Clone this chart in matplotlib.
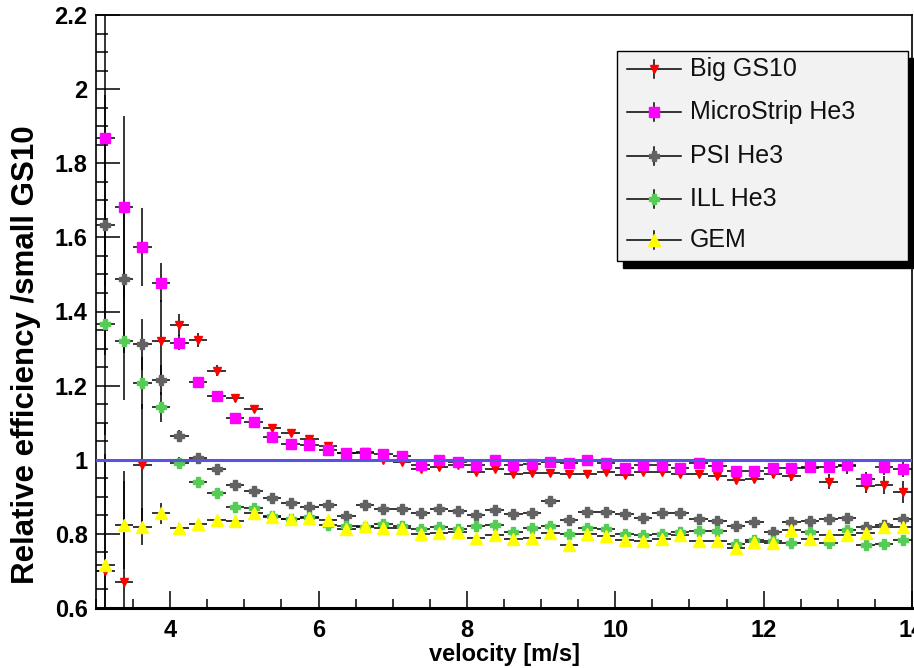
import matplotlib
matplotlib.use("Agg")
import matplotlib.pyplot as plt
from matplotlib.lines import Line2D
from matplotlib.patches import Rectangle
from matplotlib.ticker import MultipleLocator, FuncFormatter
import numpy as np

plt.rcParams['font.family'] = ['Liberation Sans', 'DejaVu Sans']

# ---------------- data ----------------
velocity = [3.125 + 0.25 * k for k in range(44)]
x_half_width = 0.125

big_gs10 = [0.70, 0.67, 0.985, 1.32, 1.364, 1.323, 1.24, 1.166, 1.138, 1.085,
            1.071, 1.056, 1.037, 1.018, 1.022, 1.0, 0.993, 0.976, 0.980, 0.987,
            0.967, 0.976, 0.961, 0.963, 0.964, 0.961, 0.962, 0.967, 0.959, 0.967,
            0.967, 0.962, 0.961, 0.955, 0.945, 0.947, 0.962, 0.955, 0.978, 0.941,
            0.982, 0.930, 0.932, 0.914]
big_gs10_err = [0.40, 0.30, 0.165, 0.11, 0.03, 0.02, 0.015, 0.01, 0.008, 0.008,
                0.008, 0.008, 0.008, 0.008, 0.008, 0.008, 0.008, 0.008, 0.008, 0.008,
                0.008, 0.008, 0.008, 0.008, 0.008, 0.008, 0.008, 0.008, 0.008, 0.008,
                0.008, 0.008, 0.008, 0.01, 0.01, 0.01, 0.012, 0.012, 0.015, 0.02,
                0.02, 0.02, 0.025, 0.03]

microstrip = [1.869, 1.683, 1.575, 1.478, 1.316, 1.209, 1.171, 1.112, 1.101, 1.062,
              1.043, 1.039, 1.027, 1.018, 1.017, 1.016, 1.011, 0.987, 1.0, 0.994,
              0.985, 1.0, 0.985, 0.989, 0.993, 0.991, 0.998, 0.991, 0.979, 0.987,
              0.985, 0.979, 0.991, 0.984, 0.969, 0.969, 0.978, 0.978, 0.980, 0.980,
              0.986, 0.948, 0.980, 0.974]
microstrip_err = [0.40, 0.245, 0.105, 0.053, 0.02, 0.012, 0.01, 0.008, 0.008, 0.008,
                  0.008, 0.008, 0.008, 0.008, 0.008, 0.008, 0.008, 0.008, 0.008, 0.008,
                  0.008, 0.008, 0.008, 0.008, 0.008, 0.008, 0.008, 0.008, 0.008, 0.008,
                  0.008, 0.008, 0.008, 0.01, 0.01, 0.01, 0.012, 0.012, 0.012, 0.015,
                  0.015, 0.02, 0.02, 0.02]

psi_he3 = [1.633, 1.487, 1.311, 1.215, 1.064, 1.004, 0.975, 0.931, 0.916, 0.897,
           0.883, 0.873, 0.877, 0.848, 0.877, 0.868, 0.866, 0.856, 0.867, 0.862,
           0.852, 0.864, 0.854, 0.857, 0.888, 0.838, 0.858, 0.858, 0.854, 0.843,
           0.855, 0.855, 0.840, 0.835, 0.822, 0.833, 0.805, 0.833, 0.834, 0.839,
           0.844, 0.818, 0.824, 0.841]
psi_he3_err = [0.35, 0.20, 0.07, 0.04, 0.015, 0.01, 0.008, 0.006, 0.006, 0.006,
               0.006, 0.006, 0.006, 0.006, 0.006, 0.006, 0.006, 0.006, 0.006, 0.006,
               0.006, 0.006, 0.006, 0.006, 0.006, 0.006, 0.006, 0.006, 0.006, 0.006,
               0.006, 0.006, 0.006, 0.006, 0.008, 0.008, 0.008, 0.008, 0.008, 0.008,
               0.01, 0.01, 0.01, 0.01]

ill_he3 = [1.366, 1.321, 1.208, 1.142, 0.992, 0.941, 0.911, 0.873, 0.870, 0.848,
           0.840, 0.846, 0.824, 0.820, 0.818, 0.826, 0.820, 0.812, 0.818, 0.812,
           0.821, 0.825, 0.806, 0.817, 0.820, 0.801, 0.817, 0.812, 0.800, 0.797,
           0.800, 0.805, 0.807, 0.807, 0.772, 0.784, 0.780, 0.776, 0.804, 0.776,
           0.810, 0.769, 0.772, 0.783]
ill_he3_err = [0.30, 0.16, 0.07, 0.04, 0.015, 0.01, 0.008, 0.006, 0.006, 0.006,
               0.006, 0.006, 0.006, 0.006, 0.006, 0.006, 0.006, 0.006, 0.006, 0.006,
               0.006, 0.006, 0.006, 0.006, 0.006, 0.006, 0.006, 0.006, 0.006, 0.006,
               0.006, 0.006, 0.006, 0.006, 0.008, 0.008, 0.008, 0.008, 0.008, 0.008,
               0.01, 0.01, 0.01, 0.01]

gem = [0.716, 0.824, 0.819, 0.855, 0.817, 0.827, 0.838, 0.836, 0.856, 0.846,
       0.841, 0.842, 0.838, 0.812, 0.822, 0.815, 0.815, 0.800, 0.802, 0.805,
       0.790, 0.797, 0.786, 0.790, 0.803, 0.770, 0.801, 0.794, 0.784, 0.782,
       0.787, 0.797, 0.782, 0.780, 0.763, 0.777, 0.776, 0.810, 0.786, 0.796,
       0.797, 0.802, 0.818, 0.818]
gem_err = [0.30, 0.12, 0.05, 0.028, 0.012, 0.008, 0.006, 0.006, 0.006, 0.006,
           0.006, 0.006, 0.006, 0.006, 0.006, 0.006, 0.006, 0.006, 0.006, 0.006,
           0.006, 0.006, 0.006, 0.006, 0.006, 0.006, 0.006, 0.006, 0.006, 0.006,
           0.006, 0.006, 0.006, 0.006, 0.008, 0.008, 0.008, 0.008, 0.008, 0.008,
           0.01, 0.01, 0.01, 0.01]

series_names = ["Big GS10", "MicroStrip He3", "PSI He3", "ILL He3", "GEM"]
reference_level = 1.0

# ---------------- style ----------------
styles = [
    dict(marker='v', color='#ff0000', ms=6.0),
    dict(marker='s', color='#ff00ff', ms=6.5),
    dict(marker='P', color='#626262', ms=7.5),
    dict(marker='P', color='#55cc55', ms=7.5),
    dict(marker='^', color='#ffff00', ms=8.5),
]
values = [big_gs10, microstrip, psi_he3, ill_he3, gem]
errors = [big_gs10_err, microstrip_err, psi_he3_err, ill_he3_err, gem_err]

W, H = 914, 668
fig = plt.figure(figsize=(W / 100, H / 100), dpi=100)
fig.patch.set_facecolor('white')
ax_l, ax_r, ax_t, ax_b = 96, 912, 15, 608
ax = fig.add_axes([ax_l / W, 1 - ax_b / H, (ax_r - ax_l) / W, (ax_b - ax_t) / H])

for vals, errs, st in zip(values, errors, styles):
    ax.errorbar(velocity, vals, yerr=errs, xerr=x_half_width, fmt='none',
                ecolor='black', elinewidth=1.1, capsize=0, zorder=2)
for vals, st in zip(values, styles):
    ax.plot(velocity, vals, linestyle='none', marker=st['marker'],
            color=st['color'], markeredgecolor=st['color'], ms=st['ms'], zorder=3)

ax.axhline(reference_level, color='#5555e0', lw=2.2, zorder=4)

ax.set_xlim(3, 14)
ax.set_ylim(0.6, 2.2)
ax.xaxis.set_major_locator(MultipleLocator(2))
ax.xaxis.set_minor_locator(MultipleLocator(0.5))
ax.yaxis.set_major_locator(MultipleLocator(0.2))
ax.yaxis.set_minor_locator(MultipleLocator(0.05))
ax.yaxis.set_major_formatter(FuncFormatter(lambda v, p: '%g' % round(v, 2)))
ax.xaxis.set_major_formatter(FuncFormatter(lambda v, p: '%g' % round(v, 2)))

ax.tick_params(axis='x', which='major', direction='in', length=12.6, width=1.1,
               labelsize=17, pad=8)
ax.tick_params(axis='x', which='minor', direction='in', length=6.5, width=1.1)
ax.tick_params(axis='y', which='major', direction='in', length=17.3, width=1.1,
               labelsize=17, pad=6)
ax.tick_params(axis='y', which='minor', direction='in', length=8.6, width=1.1)
ax.tick_params(top=False, right=False, which='both')
for lab in ax.get_xticklabels() + ax.get_yticklabels():
    lab.set_fontweight('bold')

for side in ['left', 'top', 'right']:
    ax.spines[side].set_linewidth(1.2)
ax.spines['bottom'].set_linewidth(2.2)

ax.set_xlabel("velocity [m/s]", fontsize=17, fontweight='bold', va='center', ha='center')
ax.xaxis.set_label_coords((505 - ax_l) / (ax_r - ax_l), -(655 - ax_b) / (ax_b - ax_t))
ax.set_ylabel("Relative efficiency /small GS10", fontsize=22.5, fontweight='bold',
              va='center', ha='center')
ax.yaxis.set_label_coords((26 - ax_l) / (ax_r - ax_l), (ax_b - 355) / (ax_b - ax_t))

# ---------------- legend (ROOT style box with shadow) ----------------
def fx(px):
    return px / W

def fy(py):
    return 1 - py / H

bx0, by0, bx1, by1 = 617, 51, 908, 261
shadow = Rectangle((fx(bx0 + 6), fy(by1 + 7)), fx(bx1 - bx0), (by1 - by0) / H,
                   transform=fig.transFigure, facecolor='black', edgecolor='black',
                   zorder=10)
box = Rectangle((fx(bx0), fy(by1)), fx(bx1 - bx0), (by1 - by0) / H,
                transform=fig.transFigure, facecolor='#f2f2f2', edgecolor='black',
                lw=1.0, zorder=11)
fig.add_artist(shadow)
fig.add_artist(box)
rows = [69, 112, 156, 199, 240]
mx = 653.5
for yrow, name, st in zip(rows, series_names, styles):
    fig.add_artist(Line2D([fx(627), fx(681)], [fy(yrow), fy(yrow)],
                          transform=fig.transFigure, color='black', lw=1.1, zorder=12))
    fig.add_artist(Line2D([fx(mx), fx(mx)], [fy(yrow - 9), fy(yrow + 9)],
                          transform=fig.transFigure, color='black', lw=1.1, zorder=12))
    fig.add_artist(Line2D([fx(mx)], [fy(yrow)], transform=fig.transFigure,
                          linestyle='none', marker=st['marker'], color=st['color'],
                          ms=st['ms'], zorder=13))
    fig.text(fx(690), fy(yrow), name, fontsize=18, va='center', ha='left',
             color='#111111', zorder=13)

fig.savefig("out.png", dpi=100)
